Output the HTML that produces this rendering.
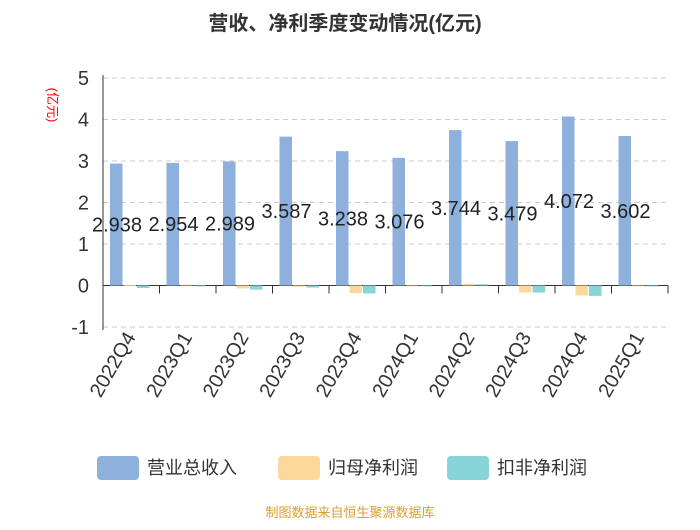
<!DOCTYPE html>
<html><head><meta charset="utf-8"><style>
body{margin:0;background:#fff;font-family:"Liberation Sans","Noto Sans CJK SC",sans-serif}
</style></head><body>
<svg id="c" width="700" height="525" xmlns="http://www.w3.org/2000/svg">
<text x="345" y="30" text-anchor="middle" font-size="20" font-weight="bold" fill="#333" font-family="Liberation Sans,Noto Sans CJK SC,sans-serif">营收、净利季度变动情况(亿元)</text>
<text transform="translate(48,105) rotate(90)" text-anchor="middle" font-size="13" fill="red" font-family="Liberation Sans,Noto Sans CJK SC,sans-serif">(亿元)</text>
<g id="g"></g>
<g>
<rect x="97" y="456" width="42" height="24" rx="4" fill="#8eb0dd"/>
<text x="147" y="474" font-size="18" fill="#333" font-family="Liberation Sans,Noto Sans CJK SC,sans-serif">营业总收入</text>
<rect x="278" y="456" width="42" height="24" rx="4" fill="#fcd89b"/>
<text x="328" y="474" font-size="18" fill="#333" font-family="Liberation Sans,Noto Sans CJK SC,sans-serif">归母净利润</text>
<rect x="447" y="456" width="42" height="24" rx="4" fill="#87d5d9"/>
<text x="497" y="474" font-size="18" fill="#333" font-family="Liberation Sans,Noto Sans CJK SC,sans-serif">扣非净利润</text>
</g>
<text x="350" y="517" text-anchor="middle" font-size="13" fill="#d9a030" font-family="Liberation Sans,Noto Sans CJK SC,sans-serif">制图数据来自恒生聚源数据库</text>
</svg>
<script>
const categories=["2022Q4","2023Q1","2023Q2","2023Q3","2023Q4","2024Q1","2024Q2","2024Q3","2024Q4","2025Q1"];
const revenue=[2.938,2.954,2.989,3.587,3.238,3.076,3.744,3.479,4.072,3.602];
const netProfit=[0.01,0.02,-0.07,-0.03,-0.18,-0.01,0.04,-0.17,-0.24,-0.01];
const deductedProfit=[-0.06,-0.02,-0.1,-0.05,-0.19,-0.02,0.03,-0.17,-0.25,-0.02];
const yTicks=[5,4,3,2,1,0,-1];
const NS="http://www.w3.org/2000/svg";
const g=document.getElementById('g');
const X0=103,X1=668,Y0=285.5,U=41.5;
const bw=(X1-X0)/categories.length;
const y=v=>Y0-v*U;
function mk(t,a){const e=document.createElementNS(NS,t);for(const k in a)e.setAttribute(k,a[k]);g.appendChild(e);return e;}
yTicks.forEach(t=>{
 if(t!==0){const l=mk('line',{x1:X0,x2:X1,y1:y(t),y2:y(t),stroke:'#ccc','stroke-dasharray':'5,4'});
 
 }
 const tx=mk('text',{x:89,y:y(t)+7,'text-anchor':'end','font-size':20,fill:'#333'});
 tx.textContent=t;
 
 
});
const ax=mk('line',{x1:X0,x2:X0,y1:y(5)-3,y2:y(-1)+3,stroke:'#333'});


const xa=mk('line',{x1:X0,x2:X1,y1:Y0,y2:Y0,stroke:'#333'});


const series=[[revenue,'#8eb0dd','bar-revenue'],[netProfit,'#fcd89b','bar-net-profit'],[deductedProfit,'#87d5d9','bar-deducted-profit']];
categories.forEach((c,i)=>{
 const cx=X0+i*bw;
 const tk=mk('line',{x1:cx+bw,x2:cx+bw,y1:Y0,y2:Y0+8,stroke:'#333'});
 
 
 series.forEach((s,j)=>{
  const v=s[0][i];const x=cx+7+j*13.5;
  const r=mk('rect',{x:x,y:Math.min(y(v),Y0),width:12.5,height:Math.max(Math.abs(v)*U,0.8),fill:s[1]});
  
  
 });
 const lb=mk('text',{x:cx+14,y:y(revenue[i]/2)+7,'text-anchor':'middle','font-size':20,fill:'#222'});
 lb.textContent=revenue[i].toFixed(3);
 
 
 const xl=mk('text',{x:0,y:0,'text-anchor':'end','font-size':20,fill:'#333',transform:`translate(${cx+bw/2+5},${y(-1)+10}) rotate(-60)`});
 xl.textContent=c;
 
 
});
</script>
</body></html>
